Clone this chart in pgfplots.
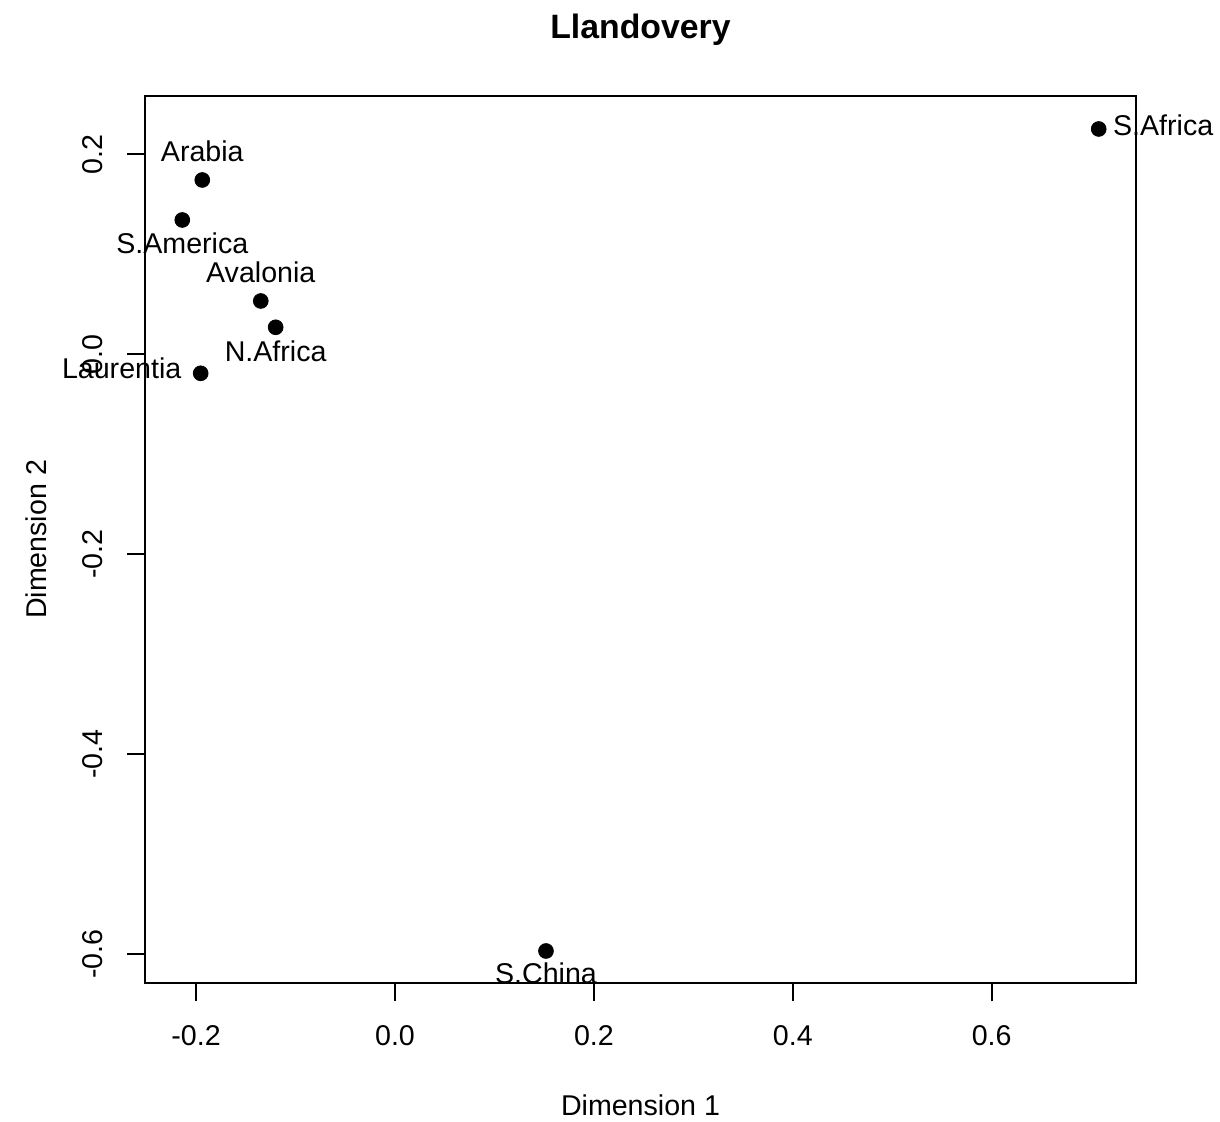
\documentclass[border=0pt]{standalone}
\usepackage{fontspec}
\setmainfont{Liberation Sans}
\usepackage{pgfplots}
\pgfplotsset{compat=1.18}
\newcommand{\fs}{\fontsize{14.3}{17}\selectfont}
\begin{document}
\begin{tikzpicture}
\begin{axis}[
  name=ax,
  scale only axis, width=495.5pt, height=443.8pt,
  xmin=-0.2514, xmax=0.7451, ymin=-0.629, ymax=0.2586,
  xtick={-0.2,0,0.2,0.4,0.6}, ytick={-0.6,-0.4,-0.2,0,0.2},
  xticklabels={-0.2,0.0,0.2,0.4,0.6}, yticklabels={-0.6,-0.4,-0.2,0.0,0.2},
  tick align=outside, tick pos=left, major tick length=9pt,
  axis line style={line width=0.9pt},
  every tick/.style={line width=0.9pt, black},
  xticklabel style={font=\fs, anchor=base, inner sep=0pt, yshift=-22pt},
  yticklabel style={font=\fs, xshift=-12pt, rotate=90, anchor=base, inner sep=0pt},
  clip=false,
  title={Llandovery},
  title style={font=\bfseries\fontsize{16.9}{20}\selectfont, at={(axis description cs:0.5,1.0508)}, anchor=base, inner sep=0pt},
  xlabel={Dimension 1},
  xlabel style={font=\fs, at={(axis description cs:0.5,-0.1488)}, anchor=base, inner sep=0pt},
  ylabel={Dimension 2},
  ylabel style={font=\fs, at={(axis description cs:-0.0989,0.5)}, rotate=0, anchor=base, inner sep=0pt},
]
\addplot[only marks, mark=*, mark size=3.7pt, black,
  point meta=explicit symbolic,
  visualization depends on={value \thisrow{anc}\as\anc},
  visualization depends on={value \thisrow{dx}\as\dx},
  visualization depends on={value \thisrow{dy}\as\dy},
  nodes near coords,
  every node near coord/.append style={anchor=\anc, xshift=\dx pt, yshift=\dy pt, inner sep=0pt, font=\fs, text=black}]
table[meta=label]{
x y label anc dx dy
-0.1938 0.1743 Arabia base 0 9
-0.2139 0.1343 S.America base 0 -17
-0.1350 0.0533 Avalonia base 0 9
-0.1200 0.0270 N.Africa base 0 -17
-0.1954 -0.0190 Laurentia east -9.5 2.5
0.7076 0.2253 S.Africa west 7 2.1
0.1518 -0.5967 S.China base 0 -16.5
};
\end{axis}
\pgfresetboundingbox
\path[use as bounding box] ([xshift=-72.5pt,yshift=-69.35pt]ax.south west) rectangle ([xshift=42pt,yshift=47.85pt]ax.north east);
\end{tikzpicture}
\end{document}
